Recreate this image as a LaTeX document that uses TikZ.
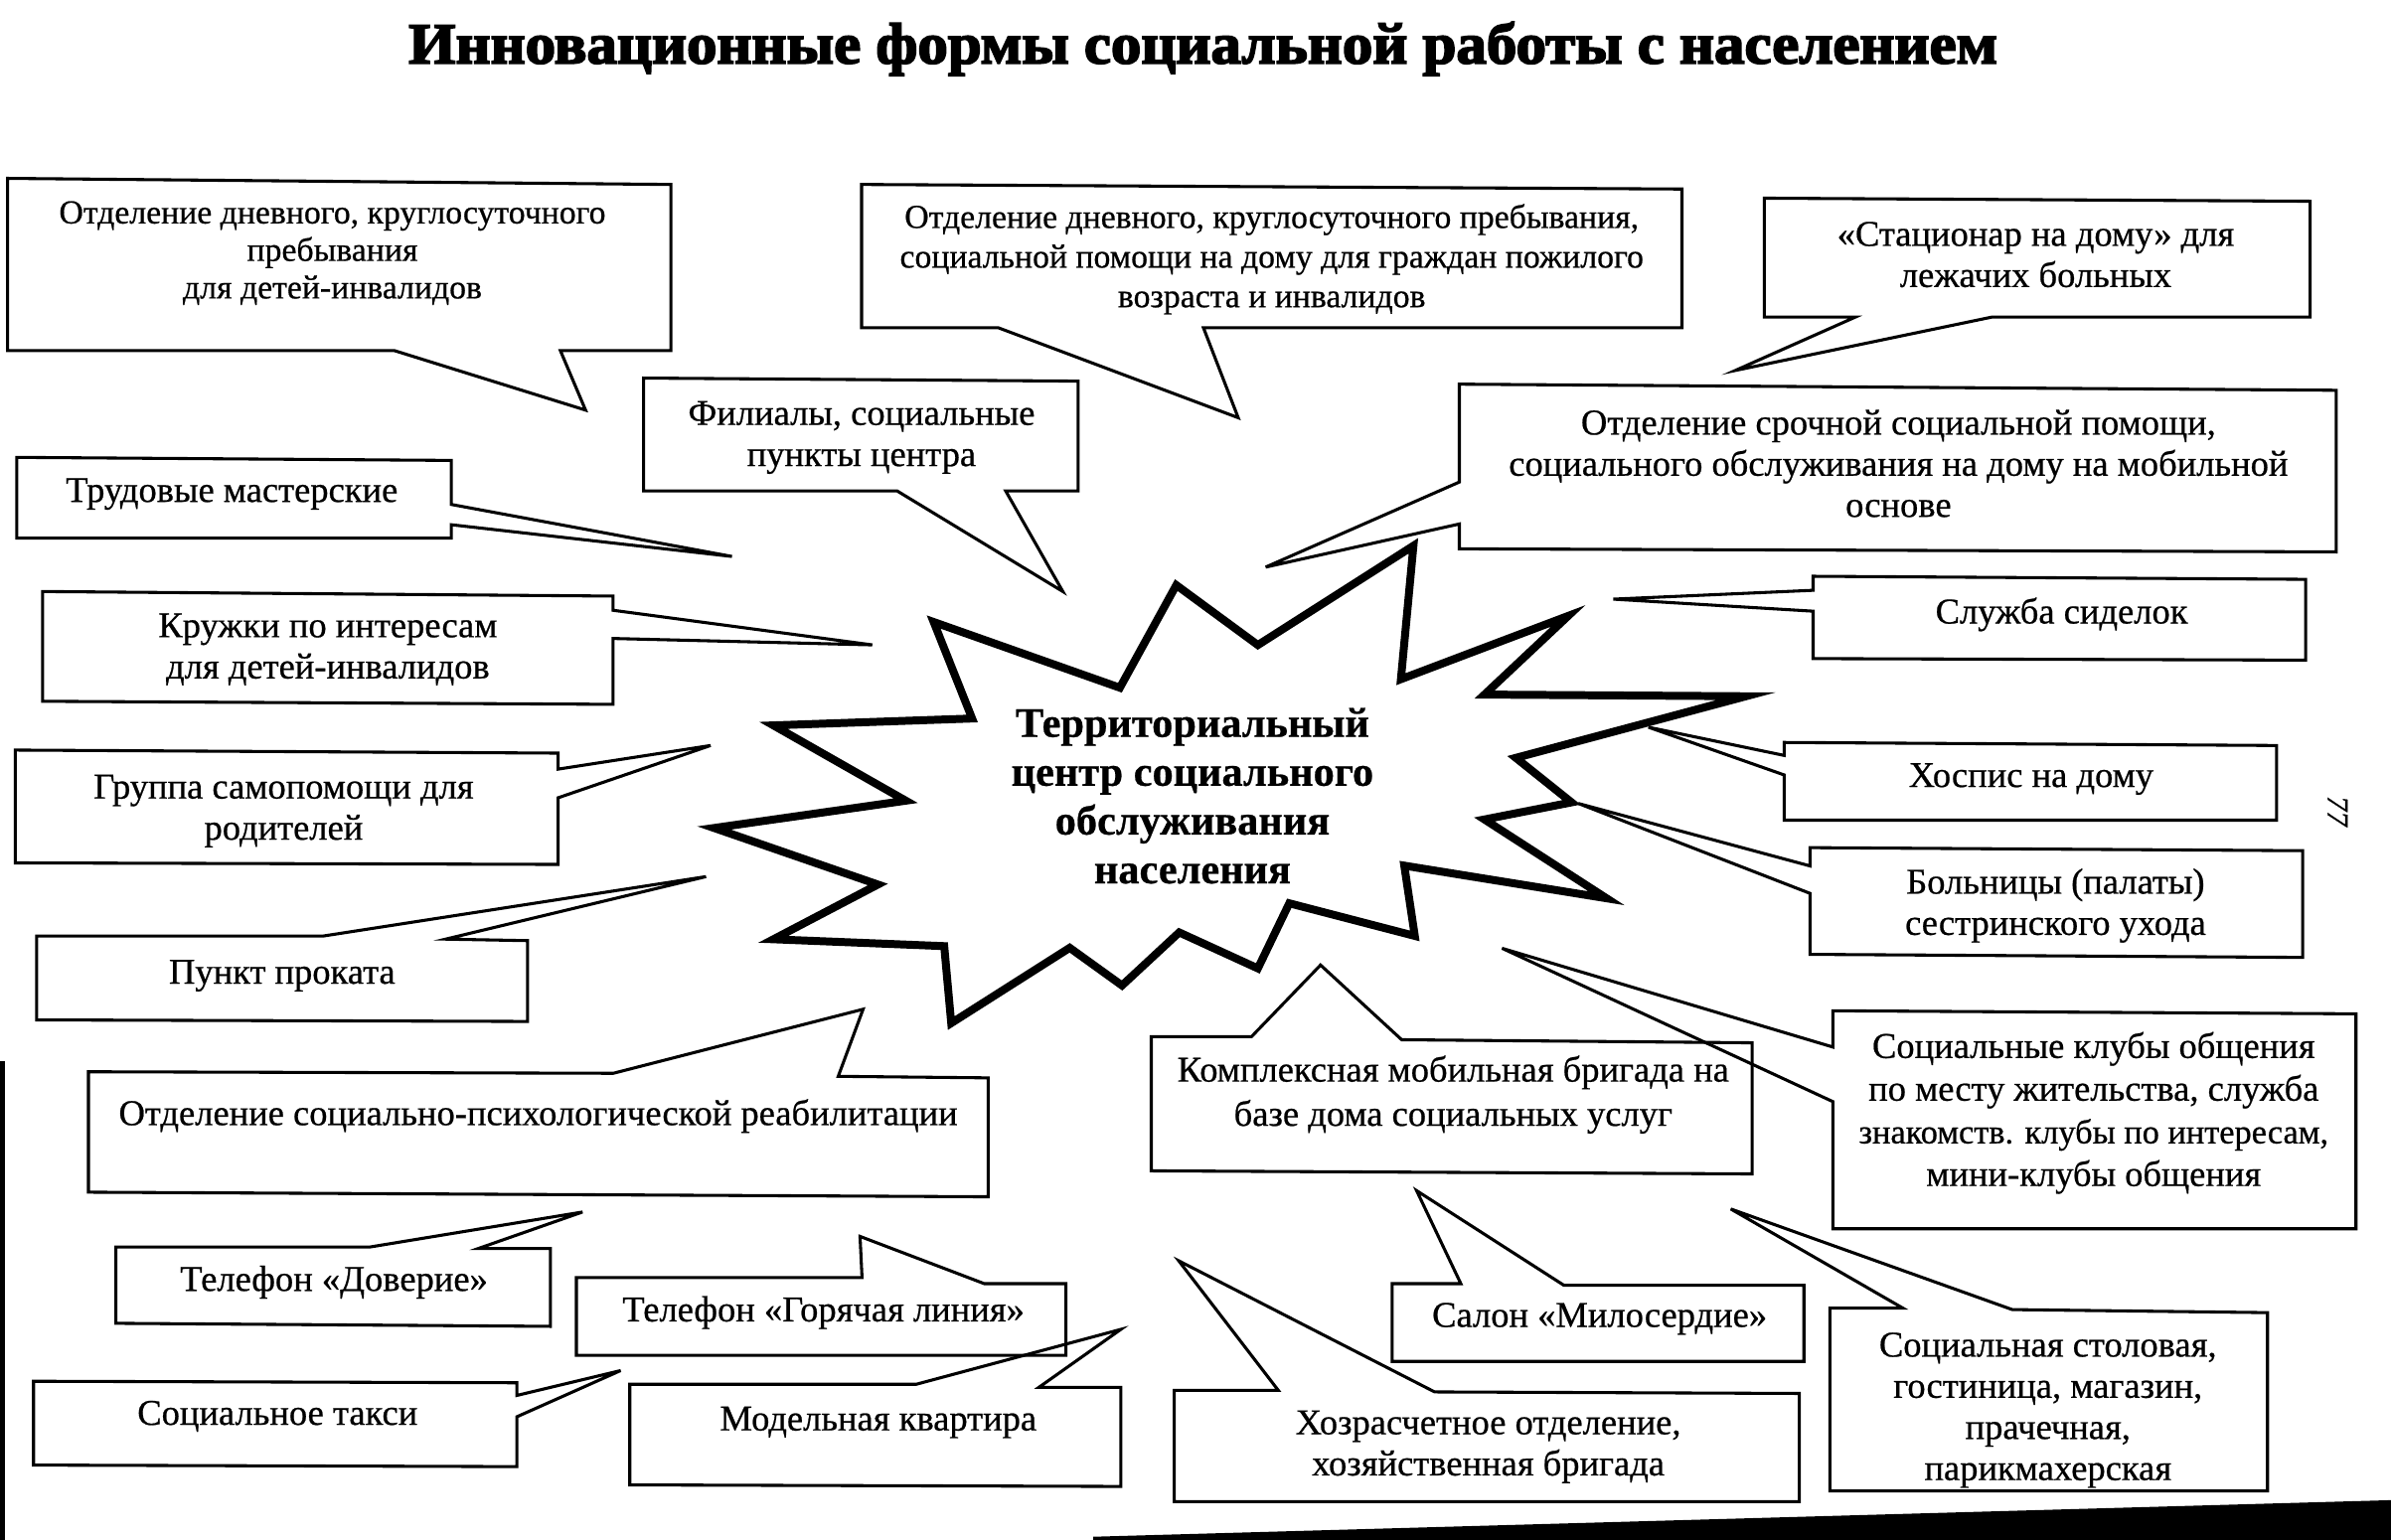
\documentclass[tikz,border=0pt]{standalone}
\usepackage{fontspec}
\usepackage{graphicx}
\setmainfont{Liberation Serif}[FakeBold=0.6]
\newfontfamily\titlefont[FakeBold=3]{Liberation Serif}
\begin{document}
\begin{tikzpicture}[x=0.5pt,y=-0.5pt,line join=miter,
  bx/.style={line width=1pt},
  tx/.style={font=\fontsize{11.9}{13.5}\selectfont, align=center, inner sep=0pt},
  starline/.style={line width=2.6pt}]
\useasboundingbox (0,0) rectangle (1568,1010);

% title
\node[inner sep=0pt] (title) at (789,32) {\resizebox{521pt}{\height}{\fontsize{19}{22}\selectfont\titlefont\bfseries Инновационные формы социальной работы с населением}};

% central star
\draw[starline] (612.3,408) -- (734.4,451.1) -- (771.4,383.8) -- (824.9,423.1) -- (926.9,358) -- (918.7,445.5) -- (1028.4,404) -- (973.5,455.6) -- (1145,456.7) -- (994.1,497.1) -- (1030.6,526.3) -- (973.5,537.5) -- (1053.5,589.2) -- (920.9,567.8) -- (927.8,613.9) -- (845.5,592.5) -- (824.9,635.2) -- (773.3,611.6) -- (735.8,646.4) -- (701.5,621.7) -- (623.8,671.1) -- (619.2,620.6) -- (507.2,616.1) -- (575.7,580.2) -- (468.3,543.1) -- (594,525.2) -- (507.2,475.8) -- (637.5,471.3) -- cycle;
\node[font=\fontsize{13.8}{16}\selectfont\bfseries, align=center, inner sep=0pt] (center) at (782,522) {Территориальный\\ центр социального\\ обслуживания\\ населения};

% tips
\coordinate (tA) at (384,269);
\coordinate (tB) at (812,274);
\coordinate (tC) at (1138,243);
\coordinate (tD) at (830,372);
\coordinate (tE) at (697,388);
\coordinate (tF) at (480,365);
\coordinate (tG) at (572,423);
\coordinate (tH) at (466,489);
\coordinate (tI) at (463,575);
\coordinate (tJ) at (566,662);
\coordinate (tK) at (382,795);
\coordinate (tL) at (564,811);
\coordinate (tM) at (407,899);
\coordinate (tN) at (735,872);
\coordinate (tO) at (866,633);
\coordinate (tP) at (1058,393);
\coordinate (tQ) at (1081,477);
\coordinate (tR) at (1035,527);
\coordinate (tS) at (985,622);
\coordinate (tT) at (929,781);
\coordinate (tU) at (773,827);
\coordinate (tV) at (1135,793);

% A (bottom pointer)
\draw[bx] (5,117) -- (440,121) -- (440,230) -- (367.5,230) -- (tA) -- (258.7,230) -- (5,230) -- cycle;
\node[tx, font=\fontsize{11}{12.3}\selectfont] (A) at (218,166) {Отделение дневного, круглосуточного\\ пребывания\\ для детей-инвалидов};
% B
\draw[bx] (565,121) -- (1103,124) -- (1103,215) -- (789.2,215) -- (tB) -- (654.7,215) -- (565,215) -- cycle;
\node[tx, font=\fontsize{11}{13}\selectfont] (B) at (834,170) {Отделение дневного, круглосуточного пребывания,\\ социальной помощи на дому для граждан пожилого\\ возраста и инвалидов};
% C
\draw[bx] (1157,130) -- (1515,132) -- (1515,208) -- (1306.2,208) -- (tC) -- (1216.7,208) -- (1157,208) -- cycle;
\node[tx] (C) at (1335,167) {«Стационар на дому» для\\ лежачих больных};
% D (left pointer)
\draw[bx] (957,252) -- (1532,256) -- (1532,362) -- (957,360) -- (957,343.7) -- (tD) -- (957,316.2) -- cycle;
\node[tx] (D) at (1245,304) {Отделение срочной социальной помощи,\\ социального обслуживания на дому на мобильной\\ основе};
% E
\draw[bx] (422,248) -- (707,250) -- (707,322) -- (659.5,322) -- (tE) -- (588.3,322) -- (422,322) -- cycle;
\node[tx] (E) at (565,287) {Филиалы, социальные\\ пункты центра};
% F (right pointer)
\draw[bx] (11,300) -- (296,302) -- (296,330.9) -- (tF) -- (296,344.2) -- (296,353) -- (11,353) -- cycle;
\node[tx] (F) at (152,324) {Трудовые мастерские};
% G
\draw[bx] (28,388) -- (402,391) -- (402,400.3) -- (tG) -- (402,418.8) -- (402,462) -- (28,460) -- cycle;
\node[tx] (G) at (215,426) {Кружки по интересам\\ для детей-инвалидов};
% H
\draw[bx] (10,492) -- (366,494) -- (366,504.5) -- (tH) -- (366,523.3) -- (366,567) -- (10,566) -- cycle;
\node[tx] (H) at (186,532) {Группа самопомощи для\\ родителей};
% I (top pointer)
\draw[bx] (24,614) -- (211.8,614) -- (tI) -- (292.3,616) -- (346,617) -- (346,670) -- (24,669) -- cycle;
\node[tx] (I) at (185,640) {Пункт проката};
% J
\draw[bx] (58,703) -- (402.2,704) -- (tJ) -- (549.7,706) -- (648,707) -- (648,785) -- (58,782) -- cycle;
\node[tx] (J) at (353,732) {Отделение социально-психологической реабилитации};
% K
\draw[bx] (76,818) -- (242.3,818) -- (tK) -- (313.5,819) -- (361,819) -- (361,870) -- (76,868) -- cycle;
\node[tx] (K) at (219,841) {Телефон «Доверие»};
% L
\draw[bx] (378,838) -- (565.3,838) -- (tL) -- (645.5,842) -- (699,842) -- (699,889) -- (378,889) -- cycle;
\node[tx] (L) at (540,861) {Телефон «Горячая линия»};
% M (right pointer)
\draw[bx] (22,906) -- (339,907) -- (339,915.3) -- (tM) -- (339,929.3) -- (339,962) -- (22,961) -- cycle;
\node[tx] (M) at (182,929) {Социальное такси};
% N
\draw[bx] (413,908) -- (600.8,908) -- (tN) -- (681.3,910) -- (735,910) -- (735,975) -- (413,974) -- cycle;
\node[tx] (N) at (576,933) {Модельная квартира};
% O
\draw[bx] (755,680) -- (820.7,680) -- (tO) -- (919.2,682) -- (1149,684) -- (1149,770) -- (755,768) -- cycle;
\node[tx, font=\fontsize{11.9}{14.5}\selectfont] (O) at (953,718) {Комплексная мобильная бригада на\\ базе дома социальных услуг};
% P (left pointer)
\draw[bx] (1189,378) -- (1512,380) -- (1512,433) -- (1189,432) -- (1189,400.9) -- (tP) -- (1189,387.2) -- cycle;
\node[tx] (P) at (1352,403) {Служба сиделок};
% Q
\draw[bx] (1170,487) -- (1493,489) -- (1493,538) -- (1170,538) -- (1170,508.3) -- (tQ) -- (1170,495.5) -- cycle;
\node[tx] (Q) at (1332,511) {Хоспис на дому};
% R
\draw[bx] (1187,556) -- (1510,558) -- (1510,628) -- (1187,626) -- (1187,586) -- (tR) -- (1187,568) -- cycle;
\node[tx] (R) at (1348,594) {Больницы (палаты)\\ сестринского ухода};
% S
\draw[bx] (1202,663) -- (1545,665) -- (1545,806) -- (1202,806) -- (1202,722.6) -- (tS) -- (1202,686.8) -- cycle;
\node[tx, font=\fontsize{11.9}{14}\selectfont] (S) at (1373,730) {Социальные клубы общения\\ по месту жительства, служба\\ {\fontsize{11.2}{14}\selectfont знакомств. клубы по интересам,}\\ мини-клубы общения};
% T
\draw[bx] (913,842) -- (958,842) -- (tT) -- (1025.5,843) -- (1183,843) -- (1183,893) -- (913,893) -- cycle;
\node[tx] (T) at (1049,865) {Салон «Милосердие»};
% U
\draw[bx] (770,912) -- (838.3,912) -- (tU) -- (940.8,913) -- (1180,914) -- (1180,985) -- (770,985) -- cycle;
\node[tx] (U) at (976,949) {Хозрасчетное отделение,\\ хозяйственная бригада};
% V
\draw[bx] (1200,858) -- (1247.8,858) -- (tV) -- (1319.6,859) -- (1487,861) -- (1487,978) -- (1200,978) -- cycle;
\node[tx] (V) at (1343,925) {Социальная столовая,\\ гостиница, магазин,\\ прачечная,\\ парикмахерская};

% page number
\node[font=\fontsize{10}{12}\selectfont\itshape, rotate=-90, inner sep=0pt] (pg) at (1533,532) {77};

% scan edges
\fill (0,696) rectangle (3,1010);
\fill (717,1010) -- (717,1008) -- (1568,984) -- (1568,1010) -- cycle;
\end{tikzpicture}
\end{document}
